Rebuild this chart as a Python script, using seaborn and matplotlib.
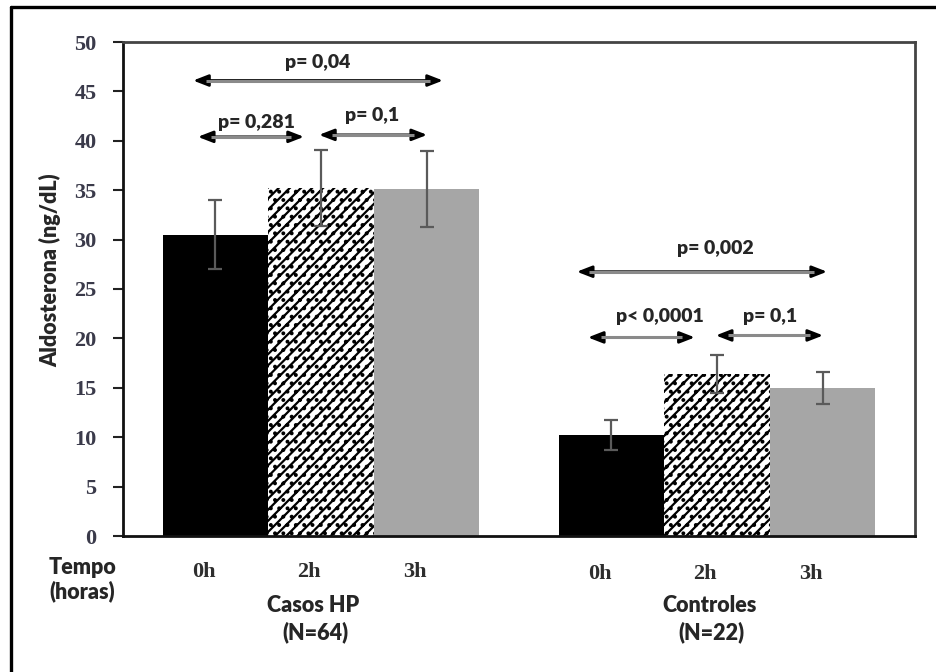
import matplotlib
matplotlib.use("Agg")
import matplotlib.pyplot as plt
import seaborn as sns
import pandas as pd
import numpy as np

# ---- data ----
groups = ["Casos HP", "Controles"]
group_n = ["(N=64)", "(N=22)"]
times = ["0h", "2h", "3h"]
casos_mean = [30.5, 35.2, 35.1]
casos_err = [3.5, 3.85, 3.85]
controles_mean = [10.2, 16.4, 14.95]
controles_err = [1.5, 1.9, 1.6]
yticks = [0, 5, 10, 15, 20, 25, 30, 35, 40, 45, 50]
# comparisons: (group index, x-from, x-to (offset from group centre), y, label)
comp_group = [0, 0, 0, 1, 1, 1]
comp_x0 = [-0.323, -0.311, -0.005, -0.354, -0.326, -0.003]
comp_x1 = [0.308, -0.043, 0.268, 0.278, -0.056, 0.268]
comp_y = [46.1, 40.4, 40.6, 26.75, 20.1, 20.3]
comp_text_x = [-0.008, -0.162, 0.129, -0.005, -0.144, 0.134]
comp_text_y = [47.9, 41.9, 42.6, 29.1, 22.2, 22.2]
comp_labels = ["p= 0,04", "p= 0,281", "p= 0,1", "p= 0,002", "p< 0,0001", "p= 0,1"]

df = pd.DataFrame({
    "grupo": [g for g in groups for _ in times],
    "tempo": times * 2,
    "valor": casos_mean + controles_mean,
    "erro": casos_err + controles_err,
})

sns.set_style("white")
plt.rcParams["hatch.linewidth"] = 1.6
plt.rcParams["font.family"] = ["Lato", "DejaVu Sans"]
W = "heavy"

fig = plt.figure(figsize=(9.36, 6.72), dpi=100)
ax = fig.add_axes([123 / 936, 1 - 536 / 672, (915 - 123) / 936, (536 - 42) / 672])

palette = {"0h": "#000000", "2h": "#ffffff", "3h": "#a6a6a6"}
sns.barplot(data=df, x="grupo", y="valor", hue="tempo", palette=palette,
            errorbar=None, width=0.8, gap=0, legend=False, ax=ax,
            saturation=1)

bar_containers = list(ax.containers)

# style bars and add error bars / labels
for hi, cont in enumerate(bar_containers):
    for gi, bar in enumerate(cont.patches):
        bar.set_linewidth(0)
        if times[hi] == "2h":
            bar.set_facecolor("white")
            bar.set_edgecolor("black")
            bar.set_hatch("///..")
        else:
            bar.set_edgecolor("none")
        cx = bar.get_x() + bar.get_width() / 2
        row = df[(df.grupo == groups[gi]) & (df.tempo == times[hi])].iloc[0]
        ax.errorbar(cx, row.valor, yerr=row.erro, color="#5a5a5a", lw=1.6,
                    capsize=5, capthick=1.6, zorder=5)
        ax.text(cx - 0.03, -3.6 - 0.25 * gi, times[hi], ha="center", va="center",
                fontsize=16, fontweight="bold", family="Liberation Serif",
                color="#2e2e2e")

ax.set_xlim(-0.5, 1.5)
ax.set_ylim(0, 50)
ax.set_yticks(yticks)
ax.set_yticklabels([str(v) for v in yticks], fontsize=16, fontweight="bold",
                   family="Liberation Serif", color="#3a3a4a")
ax.tick_params(axis="y", direction="out", length=7, width=1.5, pad=12,
               left=True, color="#222222")
ax.tick_params(axis="x", bottom=False, labelbottom=False)
ax.set_xlabel("")
ax.set_ylabel("Aldosterona (ng/dL)", fontsize=15.5, fontweight=W)
ax.yaxis.set_label_coords(61 / 936, 1 - 270 / 672, transform=fig.transFigure)
for s in ["left", "bottom"]:
    ax.spines[s].set_color("#111111")
    ax.spines[s].set_linewidth(2)
for s in ["top", "right"]:
    ax.spines[s].set_visible(True)
    ax.spines[s].set_color("#444444")
    ax.spines[s].set_linewidth(2)

# comparison arrows
hl = 0.032
for g, x0, x1, y, tx, ty, lab in zip(comp_group, comp_x0, comp_x1, comp_y,
                                      comp_text_x, comp_text_y, comp_labels):
    ax.annotate("", xy=(g + x0, y), xytext=(g + x1, y),
                arrowprops=dict(arrowstyle="<|-|>,head_length=0.9,head_width=0.35",
                                color="black", lw=2, shrinkA=0, shrinkB=0),
                zorder=6)
    ax.plot([g + x0 + hl, g + x1 - hl], [y, y], color="#8a8a8a", lw=2.2,
            zorder=7, solid_capstyle="butt")
    ax.text(g + tx, ty, lab, ha="center", va="center", fontsize=14,
            fontweight=W, zorder=8)

# group labels and axis caption
for gi, (g, n) in enumerate(zip(groups, group_n)):
    ax.text(gi - 0.02, -7.0, g, ha="center", va="center", fontsize=15.5,
            fontweight=W)
    ax.text(gi - 0.015, -9.7, n, ha="center", va="center", fontsize=15.5,
            fontweight=W)
fig.text(49 / 936, 1 - 568 / 672, "Tempo", ha="left", va="center",
         fontsize=15.5, fontweight=W)
fig.text(49 / 936, 1 - 591 / 672, "(horas)", ha="left", va="center",
         fontsize=15.5, fontweight=W)

# outer frame (top and left edges)
fig.add_artist(plt.Line2D([11 / 936, 1.0], [1 - 7 / 672, 1 - 7 / 672],
                          color="black", lw=2.4, transform=fig.transFigure))
fig.add_artist(plt.Line2D([11 / 936, 11 / 936], [0, 1 - 7 / 672],
                          color="black", lw=2.4, transform=fig.transFigure))

fig.savefig("out.png", dpi=100)
